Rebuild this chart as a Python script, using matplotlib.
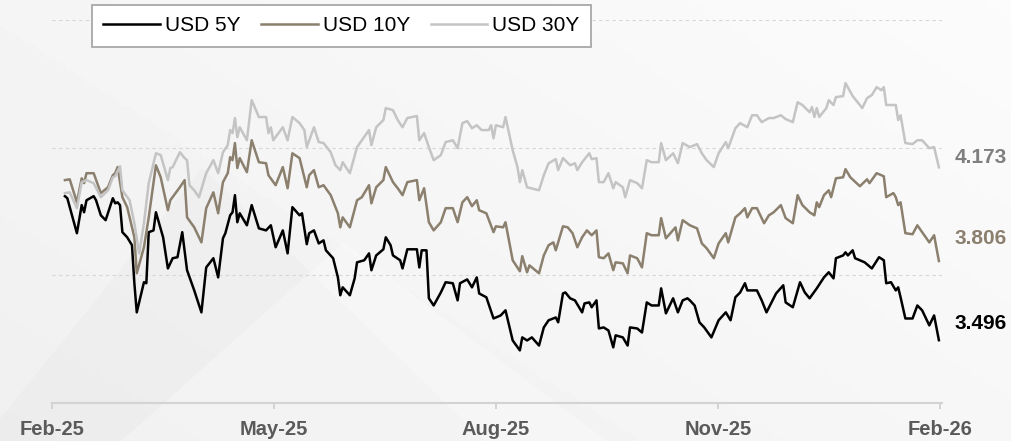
import numpy as np
import pandas as pd
import matplotlib.pyplot as plt
import matplotlib.dates as mdates
from matplotlib.patches import Polygon

plt.rcParams['font.family'] = ['Liberation Sans', 'DejaVu Sans']

# calendar days counted from the first observation
start = pd.Timestamp("2025-02-03")

usd5y_days = [0, 1, 5, 7, 8, 9, 12, 13, 15, 17, 20, 21, 22, 23, 24, 26, 28, 29, 30, 33,
              34, 35, 37, 38, 41, 43, 45, 47, 49, 51, 54, 57, 59, 62, 64, 66, 67, 69, 70, 71,
              72, 73, 76, 78, 81, 84, 86, 88, 91, 93, 95, 98, 99, 101, 102, 104, 106, 108, 109, 112,
              114, 115, 116, 119, 121, 122, 125, 127, 128, 130, 133, 134, 136, 137, 140, 141, 143, 147, 148, 149,
              151, 152, 154, 157, 159, 162, 164, 165, 168, 170, 172, 173, 176, 179, 182, 184, 187, 190, 191, 193,
              195, 198, 200, 202, 205, 206, 208, 209, 211, 213, 216, 217, 219, 220, 222, 223, 225, 227, 229, 230,
              233, 235, 236, 239, 241, 243, 245, 248, 249, 251, 254, 256, 258, 260, 261, 263, 265, 267, 270, 273,
              276, 278, 280, 282, 284, 285, 289, 291, 293, 297, 300, 301, 304, 307, 309, 311, 314, 317, 319, 321,
              322, 325, 326, 327, 329, 330, 334, 337, 340, 342, 343, 345, 347, 348, 349, 351, 354, 356, 358, 361,
              363, 365]
usd5y = [4.060, 4.052, 3.915, 4.025, 3.997, 4.044, 4.060, 4.044, 3.985, 3.966,
         4.052, 4.032, 4.036, 4.025, 3.919, 3.899, 3.868, 3.719, 3.605, 3.723,
         3.719, 3.919, 3.926, 3.997, 3.899, 3.777, 3.817, 3.821, 3.919, 3.770,
         3.691, 3.605, 3.781, 3.817, 3.742, 3.895, 3.915, 3.985, 3.997, 4.064,
         3.958, 3.993, 3.946, 4.025, 3.934, 3.926, 3.946, 3.860, 3.926, 3.836,
         4.017, 3.985, 3.993, 3.872, 3.915, 3.926, 3.875, 3.887, 3.848, 3.817,
         3.742, 3.672, 3.703, 3.672, 3.738, 3.801, 3.809, 3.836, 3.770, 3.828,
         3.852, 3.899, 3.868, 3.828, 3.809, 3.777, 3.852, 3.852, 3.781, 3.848,
         3.848, 3.660, 3.632, 3.683, 3.723, 3.719, 3.652, 3.719, 3.734, 3.703,
         3.742, 3.679, 3.664, 3.581, 3.593, 3.613, 3.495, 3.456, 3.507, 3.495,
         3.507, 3.475, 3.546, 3.574, 3.585, 3.566, 3.679, 3.683, 3.660, 3.652,
         3.605, 3.640, 3.644, 3.625, 3.652, 3.542, 3.546, 3.534, 3.468, 3.515,
         3.507, 3.475, 3.546, 3.542, 3.526, 3.644, 3.632, 3.632, 3.699, 3.601,
         3.660, 3.605, 3.652, 3.660, 3.652, 3.632, 3.566, 3.546, 3.507, 3.574,
         3.605, 3.574, 3.664, 3.683, 3.719, 3.691, 3.691, 3.652, 3.605, 3.679,
         3.711, 3.644, 3.625, 3.723, 3.683, 3.660, 3.699, 3.742, 3.762, 3.738,
         3.817, 3.828, 3.840, 3.828, 3.848, 3.817, 3.801, 3.777, 3.821, 3.809,
         3.719, 3.723, 3.691, 3.703, 3.664, 3.581, 3.581, 3.632, 3.613, 3.554,
         3.593, 3.496]

usd10y_days = [0, 2, 5, 7, 8, 9, 12, 15, 18, 20, 21, 22, 24, 26, 29, 30, 33, 35, 38, 40,
               43, 44, 48, 50, 51, 54, 57, 59, 62, 64, 66, 68, 69, 70, 71, 72, 73, 76, 78, 81,
               84, 85, 88, 91, 93, 95, 98, 101, 102, 104, 106, 108, 111, 114, 115, 116, 119, 122, 124, 127,
               128, 130, 133, 134, 137, 139, 141, 143, 147, 148, 150, 152, 154, 157, 159, 162, 164, 166, 168, 170,
               172, 173, 176, 179, 180, 183, 184, 187, 190, 191, 193, 194, 198, 200, 202, 204, 205, 208, 210, 212,
               214, 216, 218, 220, 222, 223, 225, 227, 229, 230, 233, 235, 236, 239, 241, 243, 245, 248, 249, 251,
               255, 256, 258, 261, 264, 266, 268, 271, 273, 276, 277, 280, 282, 284, 285, 287, 289, 292, 294, 296,
               299, 301, 304, 306, 308, 311, 313, 314, 315, 317, 319, 320, 322, 325, 326, 328, 332, 335, 336, 339,
               342, 343, 346, 347, 348, 349, 351, 354, 356, 358, 361, 363, 365]
usd10y = [4.123, 4.126, 4.036, 4.130, 4.111, 4.150, 4.150, 4.072, 4.095, 4.142,
          4.150, 4.174, 4.056, 4.017, 3.899, 3.758, 3.860, 3.977, 4.181, 4.134,
          4.005, 4.044, 4.095, 4.123, 3.977, 3.938, 3.879, 4.013, 4.075, 3.993,
          4.115, 4.150, 4.213, 4.201, 4.268, 4.170, 4.209, 4.154, 4.279, 4.193,
          4.189, 4.142, 4.103, 4.174, 4.091, 4.228, 4.209, 4.095, 4.142, 4.162,
          4.095, 4.103, 4.064, 3.993, 3.938, 3.977, 3.938, 4.044, 4.056, 4.103,
          4.032, 4.095, 4.123, 4.174, 4.115, 4.091, 4.064, 4.115, 4.123, 4.044,
          4.091, 3.958, 3.926, 3.958, 4.013, 4.013, 3.958, 4.036, 4.056, 4.021,
          4.044, 4.005, 3.993, 3.919, 3.942, 3.938, 3.958, 3.809, 3.766, 3.825,
          3.762, 3.789, 3.758, 3.828, 3.868, 3.879, 3.848, 3.942, 3.938, 3.915,
          3.860, 3.899, 3.926, 3.907, 3.926, 3.821, 3.817, 3.836, 3.770, 3.801,
          3.797, 3.758, 3.828, 3.817, 3.781, 3.915, 3.907, 3.907, 3.974, 3.895,
          3.938, 3.887, 3.966, 3.946, 3.934, 3.875, 3.856, 3.817, 3.875, 3.915,
          3.879, 3.977, 3.993, 4.013, 3.977, 4.013, 4.013, 3.954, 3.985, 3.997,
          4.025, 3.974, 3.954, 4.064, 4.025, 3.997, 3.985, 4.036, 4.017, 4.064,
          4.083, 4.056, 4.130, 4.134, 4.166, 4.134, 4.099, 4.126, 4.111, 4.150,
          4.138, 4.056, 4.072, 4.056, 4.025, 4.036, 3.915, 3.911, 3.946, 3.919,
          3.879, 3.907, 3.806]

usd30y_days = [0, 2, 5, 7, 9, 12, 15, 18, 20, 21, 23, 24, 27, 29, 31, 33, 35, 38, 40, 43,
               44, 45, 48, 50, 51, 52, 54, 56, 59, 62, 64, 66, 68, 69, 70, 71, 72, 73, 76, 78,
               81, 84, 85, 86, 87, 91, 93, 95, 98, 100, 101, 104, 106, 108, 111, 113, 115, 116, 119, 122,
               124, 127, 128, 130, 133, 134, 137, 139, 141, 143, 147, 148, 150, 152, 154, 157, 159, 162, 164, 166,
               168, 170, 172, 174, 177, 178, 179, 180, 183, 184, 187, 189, 190, 191, 193, 198, 200, 202, 205, 206,
               208, 211, 213, 214, 216, 219, 220, 222, 223, 225, 227, 229, 230, 233, 234, 236, 239, 241, 243, 245,
               248, 249, 251, 254, 256, 258, 261, 264, 266, 268, 271, 273, 276, 277, 280, 282, 285, 287, 289, 291,
               294, 296, 299, 301, 304, 306, 308, 311, 312, 313, 314, 315, 318, 319, 321, 322, 325, 326, 329, 333,
               335, 337, 339, 341, 342, 343, 347, 348, 349, 351, 354, 356, 358, 361, 363, 365]
usd30y = [4.072, 4.075, 4.013, 4.115, 4.123, 4.111, 4.056, 4.083, 4.134, 4.138,
          4.177, 4.083, 4.044, 3.954, 3.836, 3.954, 4.111, 4.228, 4.221, 4.123,
          4.170, 4.174, 4.232, 4.209, 4.201, 4.103, 4.083, 4.056, 4.150, 4.201,
          4.150, 4.232, 4.260, 4.319, 4.307, 4.366, 4.291, 4.330, 4.279, 4.436,
          4.370, 4.370, 4.307, 4.330, 4.279, 4.330, 4.279, 4.370, 4.346, 4.319,
          4.252, 4.330, 4.272, 4.268, 4.232, 4.181, 4.162, 4.193, 4.150, 4.252,
          4.279, 4.319, 4.260, 4.330, 4.358, 4.405, 4.397, 4.358, 4.330, 4.366,
          4.374, 4.279, 4.307, 4.252, 4.201, 4.221, 4.272, 4.279, 4.248, 4.346,
          4.354, 4.326, 4.338, 4.319, 4.319, 4.338, 4.287, 4.338, 4.330, 4.370,
          4.240, 4.174, 4.115, 4.162, 4.095, 4.083, 4.142, 4.189, 4.205, 4.162,
          4.209, 4.181, 4.189, 4.162, 4.193, 4.228, 4.205, 4.209, 4.115, 4.115,
          4.150, 4.091, 4.115, 4.095, 4.056, 4.123, 4.111, 4.091, 4.201, 4.193,
          4.193, 4.268, 4.201, 4.228, 4.189, 4.268, 4.252, 4.264, 4.228, 4.201,
          4.174, 4.228, 4.272, 4.248, 4.326, 4.346, 4.330, 4.377, 4.377, 4.350,
          4.366, 4.366, 4.377, 4.362, 4.350, 4.428, 4.417, 4.389, 4.409, 4.370,
          4.405, 4.370, 4.405, 4.436, 4.417, 4.448, 4.452, 4.503, 4.452, 4.405,
          4.444, 4.456, 4.487, 4.475, 4.487, 4.417, 4.417, 4.358, 4.377, 4.268,
          4.264, 4.279, 4.279, 4.248, 4.252, 4.173]

tick_labels = ["Feb-25", "May-25", "Aug-25", "Nov-25", "Feb-26"]

series = [
    ("USD 5Y", usd5y_days, usd5y, "#000000", "#000000", 17),
    ("USD 10Y", usd10y_days, usd10y, "#8b7f6e", "#8b7f6e", 23),
    ("USD 30Y", usd30y_days, usd30y, "#c4c4c4", "#7f7f7f", 10),
]

fig = plt.figure(figsize=(10.11, 4.41), dpi=100)
fig.patch.set_facecolor("#f4f4f4")

# soft background
bg = fig.add_axes([0, 0, 1, 1])
bg.set_axis_off()
gx, gy = np.meshgrid(np.linspace(0, 1, 200), np.linspace(0, 1, 100))
grad = 0.94 + 0.045 * (0.6 * gx + 0.4 * gy)
bg.imshow(grad, cmap="gray", vmin=0, vmax=1, extent=[0, 1, 0, 1],
          origin="lower", aspect="auto")
bg.add_patch(Polygon([[0.0, 0.05], [0.2, 0.62], [0.48, 0.0], [0.0, 0.0]],
                     color="k", alpha=0.015, lw=0))
bg.add_patch(Polygon([[0.12, 0.0], [0.34, 0.45], [0.6, 0.0]],
                     color="w", alpha=0.3, lw=0))
bg.set_xlim(0, 1)
bg.set_ylim(0, 1)

ax = fig.add_axes([52 / 1011, 38 / 441, 890 / 1011, 383 / 441])
ax.set_facecolor("none")

for name, days, vals, col, tcol, dy in series:
    dates = start + pd.to_timedelta(days, unit="D")
    ax.plot(dates, vals, color=col, lw=1.8, label=name)
    ax.annotate(f"{vals[-1]:.3f}", xy=(dates[-1], vals[-1]), xytext=(16, dy),
                textcoords="offset pixels", ha="left", va="center",
                fontsize=15, fontweight="bold", color=tcol)

x0 = mdates.date2num(start)
ax.set_xlim(x0 - 5.4, x0 + 366.3)
ax.set_xticks(x0 + np.linspace(-5.4, 365.4, 5))
ax.set_xticklabels(tick_labels, fontsize=14.5, fontweight="bold", color="#5a5a5a")
ax.tick_params(axis="x", direction="out", length=4, width=1.3, colors="#d0d0d0",
               labelcolor="#5a5a5a", pad=8)

ax.set_ylim(3.25, 4.75)
ax.set_yticks([3.75, 4.25, 4.75])
ax.set_yticklabels([])
ax.tick_params(axis="y", length=0)
ax.grid(axis="y", color="#d6d6d6", linestyle=(0, (3, 3)), lw=0.8)
ax.grid(axis="x", visible=False)

for s in ["left", "right", "top"]:
    ax.spines[s].set_visible(False)
ax.spines["bottom"].set_color("#d3d3d3")
ax.spines["bottom"].set_linewidth(1.5)

leg = fig.legend(loc="upper left", bbox_to_anchor=(92 / 1011, 1 - 5 / 441), ncol=3,
                 frameon=True, fancybox=False, edgecolor="#a8a8a8", facecolor="white",
                 framealpha=1, fontsize=15, handlelength=2.7, handletextpad=0.25,
                 columnspacing=1.0, borderpad=0.55, borderaxespad=0)
leg.get_frame().set_linewidth(1.3)

fig.savefig("out.png", dpi=100, facecolor=fig.get_facecolor())
